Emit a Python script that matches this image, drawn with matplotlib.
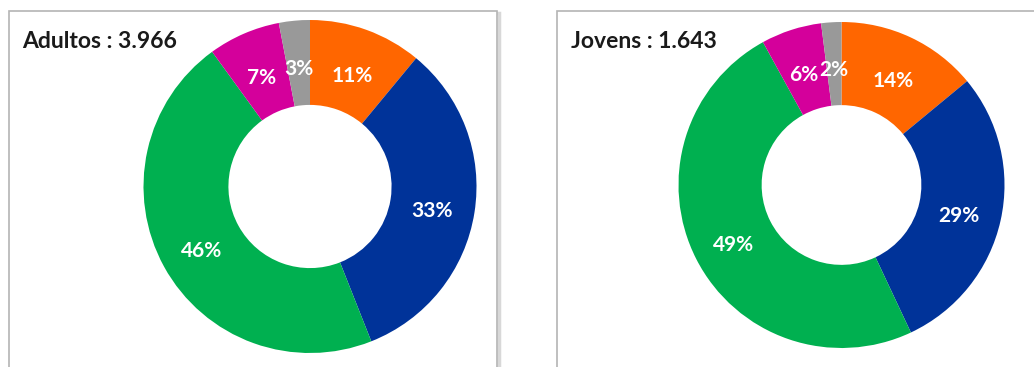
import numpy as np
import matplotlib.pyplot as plt
from matplotlib.patches import Rectangle

# dados
grupos = ['Adultos', 'Jovens']
totais = ['3.966', '1.643']
adultos = [11, 33, 46, 7, 3]
jovens = [14, 29, 49, 6, 2]
cores = ['#FF6600', '#003399', '#00B050', '#D4009B', '#999999']

plt.rcParams['font.family'] = ['Lato', 'DejaVu Sans']

fig = plt.figure(figsize=(10.34, 3.67), dpi=100)
W, H = 1034, 367

# molduras dos paineis (em pixels)
molduras = [(9, 11, 488, 400), (557, 11, 500, 400)]
for x0, y0, w, h in molduras:
    sombra = Rectangle(((x0 + 2) / W, 1 - (y0 + 2 + h) / H), w / W, h / H,
                       transform=fig.transFigure, facecolor='none',
                       edgecolor='#d8d8d8', lw=2.5, zorder=-2)
    quadro = Rectangle((x0 / W, 1 - (y0 + h) / H), w / W, h / H,
                       transform=fig.transFigure, facecolor='white',
                       edgecolor='#b4b4b4', lw=1.2, zorder=-1)
    fig.patches.extend([sombra, quadro])

posicoes = [[143 / W, 14 / H, 334 / W, 333 / H],
            [678 / W, 19 / H, 327 / W, 326 / H]]
titulos_xy = [(22 / W, 1 - 42 / H), (571 / W, 1 - 42 / H)]

for i, valores in enumerate([adultos, jovens]):
    ax = fig.add_axes(posicoes[i])
    ax.patch.set_visible(False)
    wedges, textos, autotextos = ax.pie(
        valores, colors=cores, startangle=90, counterclock=False,
        radius=1, autopct='%d%%', pctdistance=0.74,
        wedgeprops=dict(width=0.51, edgecolor='none'),
        textprops=dict(color='white', fontsize=15, fontweight='bold'))
    for t in autotextos:
        x, y = t.get_position()
        t.set_position((x, y - 0.03))
    ax.set_xlim(-1, 1)
    ax.set_ylim(-1, 1)
    ax.set_aspect('equal')
    ax.axis('off')
    fig.text(titulos_xy[i][0], titulos_xy[i][1], f'{grupos[i]} : {totais[i]}',
             fontsize=16.5, fontweight='bold', color='#1a1a1a', va='center')

plt.savefig('out.png', dpi=100)
